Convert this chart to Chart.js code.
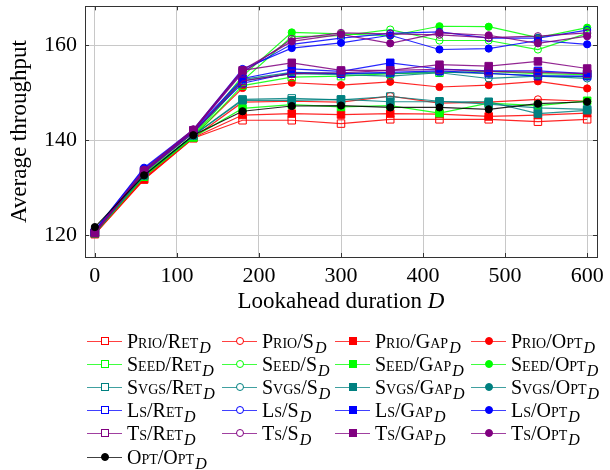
<!DOCTYPE html>
<html>
<head>
<meta charset="utf-8">
<script src="https://cdn.jsdelivr.net/npm/chart.js@4.4.1/dist/chart.umd.min.js"></script>
<style>
  body { margin: 0; background: #fff; }
  #wrap { position: relative; width: 610px; height: 470px; }
  #legend { position: absolute; left: 0; top: 0; width: 610px; height: 470px; pointer-events: none;
            font-family: "Liberation Serif", serif; font-size: 20px; color: #000; }
  .item { position: absolute; height: 24px; display: flex; align-items: center; white-space: nowrap; }
  .sample { position: relative; width: 35px; height: 24px; }
  .sample .ln { position: absolute; left: 0; right: 0; top: 11.5px; height: 1.3px; }
  .sample .mk { position: absolute; box-sizing: border-box; }
  .txt { margin-left: 5px; font-variant: small-caps; }
  .txt i { font-variant: normal; font-size: 0.8em; position: relative; top: 0.35em; margin-left: 1px; }
</style>
</head>
<body>
<div id="wrap">
  <canvas id="myChart" width="610" height="470"></canvas>
  <div id="legend"></div>
</div>
<script>
const durations = [0, 60, 120, 180, 240, 300, 360, 420, 480, 540, 600];
const xTicks = [0, 100, 200, 300, 400, 500, 600];
const yTicks = [120, 140, 160];

const prioRet = [120.2, 131.7, 140.4, 144.2, 144.2, 143.5, 144.4, 144.4, 144.4, 143.9, 144.4];
const prioS   = [120.3, 132.0, 140.5, 148.0, 148.2, 148.0, 149.3, 147.8, 148.0, 148.6, 148.2];
const prioGap = [120.3, 131.8, 140.5, 145.3, 145.6, 145.4, 145.6, 145.5, 145.0, 145.3, 145.7];
const prioOpt = [120.4, 132.2, 140.8, 151.0, 152.1, 151.6, 152.3, 151.2, 151.6, 152.4, 150.9];
const seedRet = [120.4, 132.5, 140.6, 151.5, 153.3, 153.5, 154.0, 154.2, 154.5, 154.0, 153.8];
const seedS   = [120.6, 132.8, 140.8, 152.5, 161.8, 162.0, 163.3, 161.0, 161.0, 159.1, 162.5];
const seedGap = [120.4, 132.3, 140.6, 146.7, 147.5, 147.0, 147.3, 145.7, 147.8, 147.3, 148.3];
const seedOpt = [120.8, 133.0, 141.0, 153.5, 162.7, 162.4, 162.0, 164.0, 163.9, 161.6, 163.7];
const svgsRet = [120.5, 132.6, 141.0, 148.6, 148.8, 148.5, 149.2, 148.2, 147.6, 146.8, 146.5];
const svgsS   = [120.6, 133.2, 141.5, 152.5, 154.0, 153.8, 153.5, 154.2, 153.0, 153.5, 153.0];
const svgsGap = [120.5, 132.6, 141.0, 148.4, 148.4, 148.6, 148.1, 148.1, 148.1, 145.6, 146.3];
const svgsOpt = [120.6, 133.3, 141.6, 152.8, 154.3, 154.1, 154.0, 154.4, 154.0, 153.6, 153.4];
const lsRet   = [120.6, 133.4, 141.8, 152.0, 154.2, 154.0, 154.3, 154.6, 154.1, 153.5, 153.5];
const lsS     = [121.0, 134.0, 142.0, 154.5, 160.2, 161.5, 162.5, 162.8, 161.5, 161.5, 163.2];
const lsGap   = [120.6, 133.6, 142.0, 153.0, 155.0, 154.5, 156.3, 155.0, 154.6, 154.6, 154.0];
const lsOpt   = [121.0, 134.2, 142.2, 155.0, 159.4, 160.5, 162.1, 159.1, 159.3, 161.0, 160.2];
const tsRet   = [120.4, 133.2, 141.6, 152.5, 154.0, 154.2, 154.7, 154.9, 154.5, 154.3, 154.0];
const tsS     = [120.6, 133.6, 142.0, 154.2, 161.3, 162.6, 162.4, 162.2, 161.6, 161.9, 162.6];
const tsGap   = [120.5, 133.5, 142.1, 154.7, 156.3, 154.7, 154.7, 155.9, 155.6, 156.6, 155.1];
const tsOpt   = [120.7, 133.8, 142.3, 154.8, 160.8, 162.3, 160.4, 162.6, 162.1, 160.4, 161.9];
const optOpt  = [121.7, 132.6, 141.05, 146.1, 147.2, 147.3, 146.9, 146.9, 146.5, 147.7, 148.1];

// line / marker settings per scheduler and per variant
const colors = { Prio: "#ff0000", Seed: "#00ff00", Svgs: "#008080", Ls: "#0000ff", Ts: "#800080", Opt: "#000000" };
const marks = {
  Ret: { style: "rect", fill: false },
  S:   { style: "circle", fill: false },
  Gap: { style: "rect", fill: true },
  Opt: { style: "circle", fill: true },
};

const series = [
  ["Prio", "Ret", prioRet], ["Prio", "S", prioS], ["Prio", "Gap", prioGap], ["Prio", "Opt", prioOpt],
  ["Seed", "Ret", seedRet], ["Seed", "S", seedS], ["Seed", "Gap", seedGap], ["Seed", "Opt", seedOpt],
  ["Svgs", "Ret", svgsRet], ["Svgs", "S", svgsS], ["Svgs", "Gap", svgsGap], ["Svgs", "Opt", svgsOpt],
  ["Ls", "Ret", lsRet], ["Ls", "S", lsS], ["Ls", "Gap", lsGap], ["Ls", "Opt", lsOpt],
  ["Ts", "Ret", tsRet], ["Ts", "S", tsS], ["Ts", "Gap", tsGap], ["Ts", "Opt", tsOpt],
  ["Opt", "Opt", optOpt],
];

function alpha(hex, a) {
  const n = parseInt(hex.slice(1), 16);
  return `rgba(${n >> 16}, ${(n >> 8) & 255}, ${n & 255}, ${a})`;
}

const datasets = series.map(([a, b, vals], i) => {
  const c = colors[a];
  const m = marks[b];
  return {
    label: a + "/" + b,
    data: durations.map((d, k) => ({ x: d, y: vals[k] })),
    borderColor: alpha(c, 0.85),
    borderWidth: 1.2,
    pointStyle: m.style,
    pointRadius: m.style === "rect" ? 5.3 : 3.6,
    pointBorderWidth: 1,
    pointBorderColor: c,
    pointBackgroundColor: m.fill ? c : "rgba(0,0,0,0)",
    order: series.length - 1 - i,
    tension: 0,
  };
});

const serif = "Liberation Serif";

const frame = {
  id: "frame",
  afterDraw(chart) {
    const { ctx, chartArea: a, scales } = chart;
    ctx.save();
    ctx.strokeStyle = "#333";
    ctx.lineWidth = 1;
    ctx.beginPath();
    // small inner tick marks like the original axis
    xTicks.forEach(v => {
      const px = Math.round(scales.x.getPixelForValue(v)) + 0.5;
      ctx.moveTo(px, a.bottom); ctx.lineTo(px, a.bottom - 4);
      ctx.moveTo(px, a.top); ctx.lineTo(px, a.top + 4);
    });
    yTicks.forEach(v => {
      const py = Math.round(scales.y.getPixelForValue(v)) + 0.5;
      ctx.moveTo(a.left, py); ctx.lineTo(a.left + 4, py);
      ctx.moveTo(a.right, py); ctx.lineTo(a.right - 4, py);
    });
    ctx.stroke();
    ctx.strokeRect(Math.round(a.left) + 0.5, Math.round(a.top) + 0.5,
                   Math.round(a.right - a.left), Math.round(a.bottom - a.top));

    // axis titles
    ctx.fillStyle = "#000";
    ctx.textBaseline = "middle";
    const t1 = "Lookahead duration ";
    ctx.font = `23px "${serif}"`;
    const w1 = ctx.measureText(t1).width;
    ctx.font = `italic 23px "${serif}"`;
    const w2 = ctx.measureText("D").width;
    const cx = (a.left + a.right) / 2;
    const x0 = cx - (w1 + w2) / 2;
    ctx.textAlign = "left";
    ctx.font = `23px "${serif}"`;
    ctx.fillText(t1, x0, 302);
    ctx.font = `italic 23px "${serif}"`;
    ctx.fillText("D", x0 + w1, 302);

    ctx.translate(20, (a.top + a.bottom) / 2);
    ctx.rotate(-Math.PI / 2);
    ctx.textAlign = "center";
    ctx.font = `23px "${serif}"`;
    ctx.fillText("Average throughput", 0, 0);
    ctx.restore();
  },
};

const ctx = document.getElementById("myChart").getContext("2d");
const myChart = new Chart(ctx, {
  type: "line",
  data: { datasets: datasets },
  options: {
    responsive: false,
    animation: false,
    layout: { padding: { top: 6, right: 13, left: 0, bottom: 0 } },
    plugins: { legend: { display: false }, tooltip: { enabled: false } },
    scales: {
      x: {
        type: "linear",
        min: -12,
        max: 612,
        afterBuildTicks: s => { s.ticks = xTicks.map(v => ({ value: v })); },
        afterFit: s => { s.height = 213; s.paddingLeft = 0; s.paddingRight = 0; },
        grid: { color: "#c8c8c8", lineWidth: 1, drawTicks: false },
        border: { display: false },
        ticks: { padding: 6, color: "#000", font: { family: serif, size: 22 } },
      },
      y: {
        type: "linear",
        min: 115.4,
        max: 168.2,
        afterBuildTicks: s => { s.ticks = yTicks.map(v => ({ value: v })); },
        afterFit: s => { s.width = 85; s.paddingTop = 0; s.paddingBottom = 0; },
        grid: { color: "#c8c8c8", lineWidth: 1, drawTicks: false },
        border: { display: false },
        ticks: { padding: 8, color: "#000", font: { family: serif, size: 22 } },
      },
    },
  },
  plugins: [frame],
});

// legend, 4 columns, row-major like the original
const colLine = [87, 222, 335, 471];
const rowY = [341, 364, 387, 410, 433, 457];
const legend = document.getElementById("legend");
series.forEach(([a, b], i) => {
  const c = colors[a];
  const m = marks[b];
  const item = document.createElement("div");
  item.className = "item";
  item.style.left = colLine[i % 4] + "px";
  item.style.top = (rowY[Math.floor(i / 4)] - 12) + "px";
  const size = m.style === "rect" ? 8 : 8;
  const mk = `<span class="mk" style="left:${17.5 - size / 2}px;top:${12 - size / 2}px;width:${size}px;height:${size}px;` +
    `border:1px solid ${c};background:${m.fill ? c : "#fff"};border-radius:${m.style === "circle" ? "50%" : "0"}"></span>`;
  item.innerHTML = `<span class="sample"><span class="ln" style="background:${alpha(c, 0.75)}"></span>${mk}</span>` +
    `<span class="txt">${a}/${b}<i>D</i></span>`;
  legend.appendChild(item);
});
</script>
</body>
</html>
